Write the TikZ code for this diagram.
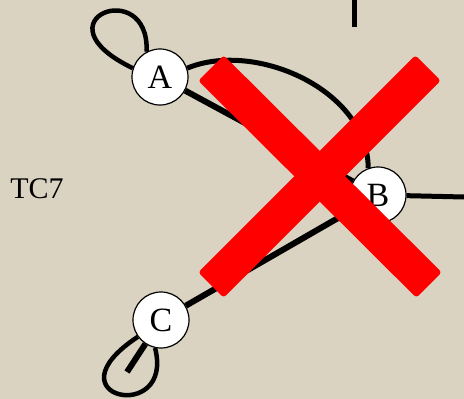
\documentclass[tikz,border=0pt]{standalone}
\usepackage{fontspec}
\setmainfont{Liberation Serif}
\pgfdeclarelayer{bg}
\pgfdeclarelayer{edges}
\pgfsetlayers{bg,edges,main}
\definecolor{linen}{RGB}{219,211,193}
\definecolor{xred}{RGB}{255,0,0}
\begin{document}
\begin{tikzpicture}[x=1pt,y=-1pt,
  vertex/.style={circle,draw=black,line width=1.2pt,fill=white,minimum size=56pt,inner sep=0pt,font=\fontsize{34}{34}\selectfont},
  loopline/.style={draw=black,line width=4.5pt},
  arcline/.style={draw=black,line width=5pt},
  thickline/.style={draw=black,line width=6pt,line cap=butt},
  crossbar/.style={fill=xred,rounded corners=3pt},
  label/.style={font=\fontsize{30}{30}\selectfont,inner sep=0pt}]
\begin{pgfonlayer}{bg}
\fill[linen] (0,0) rectangle (464,399);
\end{pgfonlayer}
\useasboundingbox (0,0) rectangle (464,399);

\node[vertex] (A) at (160,77) {A};
\node[vertex] (B) at (378,195) {B};
\node[vertex] (C) at (161,320) {C};
\node[label] (tc) at (37,189) {TC7};

\coordinate (Bend) at (464,197);
\coordinate (Cend) at (127,372);
\coordinate (Ttop) at (354.5,0);
\coordinate (Tbot) at (354.5,27);

\begin{pgfonlayer}{edges}
\draw[loopline] (A.162) .. controls (33,20) and (150,-25) .. (A.118);
\draw[loopline] (C.216) .. controls (45,398) and (175,425) .. (C.258);
\draw[arcline] (A.18) .. controls (255,40) and (368,90) .. (B.110);
\draw[thickline] (A) -- (B);
\draw[thickline] (C) -- (B);
\draw[thickline] (C) -- (Cend);
\draw[arcline,line cap=butt] (B) -- (Bend);
\draw[arcline,line cap=butt] (Ttop) -- (Tbot);
\end{pgfonlayer}

\fill[crossbar] (223.7,55.3) -- (441.7,272.3) -- (416.3,297.7) -- (198.3,80.7) -- cycle;
\fill[crossbar] (415.3,55.3) -- (440.7,80.7) -- (223.7,297.7) -- (198.3,272.3) -- cycle;
\end{tikzpicture}
\end{document}
